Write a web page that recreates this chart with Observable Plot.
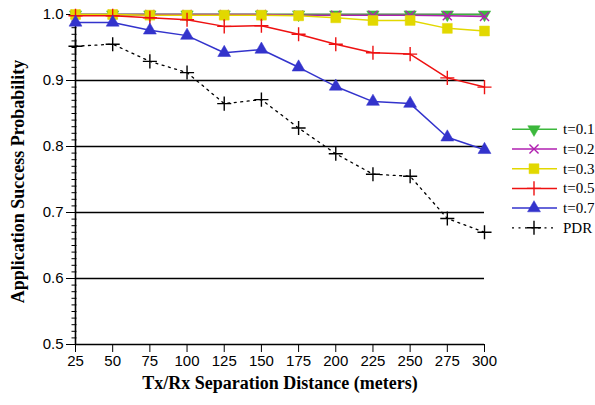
<!DOCTYPE html>
<html>
<head>
<meta charset="utf-8">
<script src="https://cdn.jsdelivr.net/npm/d3@7"></script>
<script src="https://cdn.jsdelivr.net/npm/@observablehq/plot@0.6"></script>
<style>
  html, body { margin: 0; padding: 0; background: #fff; overflow: hidden; }
  #wrap { position: relative; width: 595px; height: 405px; overflow: hidden; }
  #legend { position: absolute; left: 0; top: 0; pointer-events: none; }
</style>
</head>
<body>
<div id="wrap"><div id="chart"></div><svg id="legend" width="595" height="405"></svg></div>
<script>
const distances = [25, 50, 75, 100, 125, 150, 175, 200, 225, 250, 275, 300];
const t01 = [1.0, 1.0, 1.0, 1.0, 1.0, 1.0, 1.0, 1.0, 1.0, 1.0, 1.0, 1.0];
const t02 = [1.0, 1.0, 1.0, 1.0, 1.0, 1.0, 0.999, 0.999, 0.999, 0.999, 0.998, 0.997];
const t03 = [1.0, 1.0, 0.999, 0.999, 0.999, 0.999, 0.998, 0.995, 0.991, 0.991, 0.979, 0.975];
const t05 = [0.998, 0.998, 0.995, 0.992, 0.982, 0.983, 0.970, 0.955, 0.942, 0.940, 0.904, 0.890];
const t07 = [0.988, 0.988, 0.976, 0.968, 0.942, 0.947, 0.920, 0.891, 0.868, 0.865, 0.814, 0.795];
const pdr = [0.952, 0.955, 0.929, 0.912, 0.865, 0.871, 0.828, 0.789, 0.758, 0.755, 0.691, 0.670];
const seriesNames = ["t=0.1", "t=0.2", "t=0.3", "t=0.5", "t=0.7", "PDR"];
const xTicks = [25, 50, 75, 100, 125, 150, 175, 200, 225, 250, 275, 300];
const yTicks = [0.5, 0.6, 0.7, 0.8, 0.9, 1.0];
const gridValues = [0.6, 0.7, 0.8, 0.9, 1.0];

const seriesValues = [t01, t02, t03, t05, t07, pdr];
const styles = [
  {color: "#3cb83c", symbol: "triangle", fill: true, rotate: 180, r: 4.6, dash: null, width: 1.5},
  {color: "#b020b0", symbol: "times", fill: false, rotate: 0, r: 4.2, dash: null, width: 1.5},
  {color: "#e2d800", symbol: "square", fill: true, rotate: 0, r: 5.6, dash: null, width: 1.5},
  {color: "#ee1111", symbol: "plus", fill: false, rotate: 0, r: 4.6, dash: null, width: 1.5},
  {color: "#3333cc", symbol: "triangle", fill: true, rotate: 0, r: 4.8, dash: null, width: 1.5},
  {color: "#000000", symbol: "plus", fill: false, rotate: 0, r: 4.6, dash: "2,4.5", width: 1.3}
];

const marks = [];
// grid lines
marks.push(Plot.ruleY(gridValues, {stroke: "#000", strokeWidth: 1.4}));
// axes
marks.push(Plot.axisX({ticks: xTicks, tickSize: 8, tickPadding: 3, tickFormat: d => String(d), label: null, fontSize: 15, stroke: "#000"}));
marks.push(Plot.axisY({ticks: yTicks, tickSize: 9, tickPadding: 3, tickFormat: d3.format(".1f"), label: null, fontSize: 15, stroke: "#000"}));
marks.push(Plot.axisY({ticks: d3.range(50, 101).map(v => v / 100), tickSize: 5, text: null, label: null, stroke: "#000", dx: 1.5}));
marks.push(Plot.ruleX([25], {y1: 0.5, y2: 1.0, stroke: "#000", strokeWidth: 1.6}));
marks.push(Plot.ruleY([0.5], {stroke: "#000", strokeWidth: 1.6}));

seriesValues.forEach((vals, i) => {
  const s = styles[i];
  const data = distances.map((d, j) => ({x: d, y: vals[j]}));
  marks.push(Plot.line(data, {x: "x", y: "y", stroke: s.color, strokeWidth: s.width, strokeDasharray: s.dash}));
  marks.push(Plot.dot(data, {
    x: "x", y: "y", symbol: s.symbol, r: s.r, rotate: s.rotate,
    fill: s.fill ? s.color : "none", stroke: s.color, strokeWidth: s.fill ? 0.5 : 1.4
  }));
});

// axis titles
marks.push(Plot.text(["Tx/Rx Separation Distance (meters)"], {
  frameAnchor: "bottom", dy: 39, lineAnchor: "middle", textAnchor: "middle", text: d => d, fontSize: 18, fontWeight: "bold",
  fontFamily: "Liberation Serif, serif", fill: "#000"
}));
marks.push(Plot.text(["Application Success Probability"], {
  frameAnchor: "left", dx: -57, dy: 2, rotate: -90, lineAnchor: "middle", textAnchor: "middle", text: d => d, fontSize: 18, fontWeight: "bold",
  fontFamily: "Liberation Serif, serif", fill: "#000"
}));

const chart = Plot.plot({
  width: 595,
  height: 405,
  marginLeft: 75,
  marginRight: 111,
  marginTop: 14,
  marginBottom: 61,
  style: {fontFamily: "Liberation Sans, Arial, sans-serif", color: "#000", background: "#fff", overflow: "visible"},
  x: {type: "linear", domain: [25, 300]},
  y: {type: "linear", domain: [0.5, 1.0]},
  marks
});
document.getElementById("chart").appendChild(chart);

// legend
const leg = d3.select("#legend");
const legTop = 129.3, legStep = 19.7;
const symMap = {triangle: d3.symbolTriangle, times: d3.symbolTimes, square: d3.symbolSquare, plus: d3.symbolPlus};
seriesNames.forEach((name, i) => {
  const s = styles[i];
  const y = legTop + i * legStep;
  const g = leg.append("g");
  g.append("line").attr("x1", 512).attr("x2", 557).attr("y1", y).attr("y2", y)
    .attr("stroke", s.color).attr("stroke-width", s.width)
    .attr("stroke-dasharray", s.dash);
  const sym = d3.symbol(symMap[s.symbol], Math.PI * s.r * s.r)();
  g.append("path").attr("d", sym)
    .attr("transform", `translate(534,${y}) rotate(${s.rotate})`)
    .attr("fill", s.fill ? s.color : "none").attr("stroke", s.color)
    .attr("stroke-width", s.fill ? 0.5 : 1.4);
  g.append("text").attr("x", 563).attr("y", y + 5).text(name)
    .attr("font-family", "Liberation Serif, serif").attr("font-size", 15).attr("fill", "#000");
});
</script>
</body>
</html>
